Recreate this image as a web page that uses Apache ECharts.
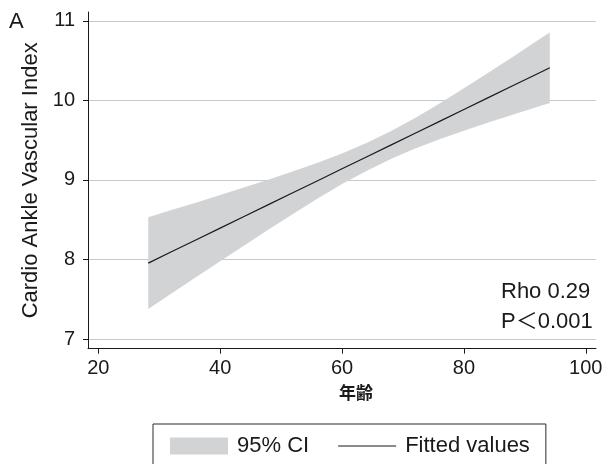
<!DOCTYPE html>
<html><head><meta charset="utf-8">
<script src="https://cdn.jsdelivr.net/npm/echarts@6/dist/echarts.min.js"></script>
<style>html,body{margin:0;padding:0;background:#fff}#c{width:612px;height:464px}</style>
</head><body><div id="c"></div>
<script>
const ageX    = [28.2, 32, 36, 40, 44, 48, 52, 56, 60, 64, 68, 72, 76, 80, 84, 88, 92, 94.1];
const fitted  = [7.955, 8.097, 8.246, 8.395, 8.544, 8.693, 8.842, 8.991, 9.140, 9.289, 9.438, 9.587, 9.736, 9.885, 10.034, 10.183, 10.332, 10.410];
const ciUpper = [8.532, 8.621, 8.715, 8.811, 8.907, 9.006, 9.108, 9.215, 9.331, 9.464, 9.613, 9.778, 9.960, 10.151, 10.347, 10.546, 10.748, 10.854];
const ciLower = [7.378, 7.573, 7.777, 7.979, 8.181, 8.380, 8.576, 8.767, 8.949, 9.114, 9.263, 9.396, 9.512, 9.619, 9.721, 9.820, 9.916, 9.966];
const xTicks = [20, 40, 60, 80, 100];
const yTicks = [7, 8, 9, 10, 11];
const legendNames = ['95% CI', 'Fitted values'];
const xTitle = '年齢';
const yTitle = 'Cardio Ankle Vascular Index';
const panelLabel = 'A';
const statLines = ['Rho 0.29', 'P＜0.001'];

const FONT = '"Liberation Sans", Arial, "Noto Sans CJK JP", sans-serif';
const ink = '#1a1a1a';
const bandColor = '#d2d3d5';

const chart = echarts.init(document.getElementById('c'), null, {renderer: 'canvas'});
chart.setOption({
  animation: false,
  backgroundColor: '#ffffff',
  textStyle: {fontFamily: FONT, color: ink},
  grid: {left: 88, top: 12, right: 16, bottom: 115.3, containLabel: false},
  xAxis: {
    type: 'value', min: 18.31, max: 101.68, splitNumber: 4,
    name: xTitle, nameLocation: 'middle', nameGap: 33,
    nameTextStyle: {fontFamily: '"Noto Sans CJK JP", sans-serif', fontSize: 17, fontWeight: 'bold', color: ink, padding: [0, 0, 0, 28]},
    axisLine: {show: true, onZero: false, lineStyle: {color: ink, width: 1}},
    axisTick: {show: true, length: 5, lineStyle: {color: ink, width: 1}, customValues: xTicks},
    axisLabel: {customValues: xTicks, margin: 10, fontSize: 20, color: ink},
    splitLine: {show: false}
  },
  yAxis: {
    type: 'value', min: 6.88, max: 11.11, splitNumber: 4,
    name: yTitle, nameLocation: 'middle', nameGap: 41,
    nameTextStyle: {fontSize: 22, color: ink},
    axisLine: {show: true, onZero: false, lineStyle: {color: ink, width: 1}},
    axisTick: {show: true, length: 5, lineStyle: {color: ink, width: 1}, customValues: yTicks},
    axisLabel: {customValues: yTicks, margin: 13, fontSize: 20, color: ink},
    splitLine: {show: true, lineStyle: {color: '#c8c8c8', width: 1}}
  },
  legend: {
    left: 153, top: 424, orient: 'horizontal',
    padding: [11, 16, 40, 17], itemGap: 29, itemWidth: 58, itemHeight: 17,
    borderColor: '#2a2a2a', borderWidth: 1, backgroundColor: '#fff',
    textStyle: {fontSize: 22, color: ink, fontFamily: FONT, padding: [0, 0, 0, 4]},
    data: [
      {name: legendNames[0], icon: 'rect', itemStyle: {color: bandColor, borderWidth: 0}},
      {name: legendNames[1], icon: 'path://M0,0 L58,0 L58,1.2 L0,1.2 Z', itemStyle: {color: ink, borderWidth: 0}}
    ]
  },
  graphic: [
    {type: 'text', left: 9, top: 11, style: {text: panelLabel, font: '22px ' + FONT, fill: ink}},
    {type: 'text', left: 501, top: 281, style: {text: statLines[0], font: '22px ' + FONT, fill: ink}},
    {type: 'text', left: 501, top: 311, style: {text: statLines[1], font: '22px ' + FONT, fill: ink}}
  ],
  series: [
    {
      name: legendNames[0], type: 'custom', silent: true,
      color: bandColor,
      itemStyle: {color: bandColor},
      data: ageX.map((x, i) => [x, ciLower[i], ciUpper[i]]),
      encode: {x: 0, y: [1, 2]},
      renderItem: function (params, api) {
        if (params.dataIndex !== 0) return null;
        const pts = [];
        for (let i = 0; i < ageX.length; i++) pts.push(api.coord([ageX[i], ciUpper[i]]));
        for (let i = ageX.length - 1; i >= 0; i--) pts.push(api.coord([ageX[i], ciLower[i]]));
        return {type: 'polygon', shape: {points: pts}, style: {fill: bandColor, stroke: null}};
      }
    },
    {
      name: legendNames[1], type: 'line', symbol: 'none', silent: true,
      color: ink,
      lineStyle: {color: ink, width: 1.2},
      data: ageX.map((x, i) => [x, fitted[i]])
    }
  ]
});
</script></body></html>
